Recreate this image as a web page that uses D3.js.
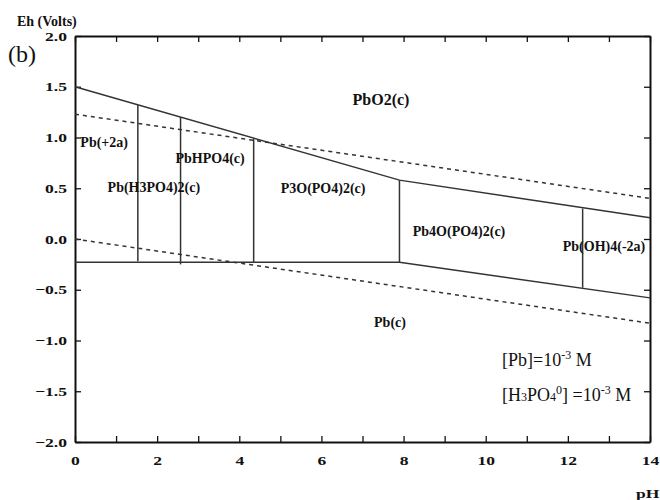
<!DOCTYPE html>
<html lang="en">
<head>
  <meta charset="UTF-8">
  <title>Eh-pH diagram Pb-P-O-H</title>
  <style>
    body { margin: 0; background: #fff; }
    text { font-family: "Liberation Serif", "Times New Roman", serif; fill: #111; }
  </style>
</head>
<body>
<script src="https://d3js.org/d3.v7.min.js"></script>
<div id="chart"></div>

<script>
    // DATA =======================================================================================
    // stability boundaries [pH, Eh]
    const upperBoundary = [[0, 1.50], [7.9, 0.58], [14, 0.21]];
    const lowerBoundary = [[0, -0.23], [7.9, -0.23], [14, -0.58]];
    // water stability limits (dashed)
    const waterUpper = [[0, 1.23], [14, 0.40]];
    const waterLower = [[0, 0.00], [14, -0.83]];
    // vertical phase boundaries
    const verticalPH  = [1.53, 2.57, 4.35, 7.9, 12.36];
    const verticalTop = [1.32, 1.20, 0.99, 0.58, 0.30];
    const verticalBot = [-0.22, -0.25, -0.23, -0.23, -0.48];
    // field labels
    const fieldNames = ["PbO2(c)", "Pb(+2a)", "PbHPO4(c)", "Pb(H3PO4)2(c)", "P3O(PO4)2(c)",
                        "Pb4O(PO4)2(c)", "Pb(OH)4(-2a)", "Pb(c)"];
    const fieldPH = [7.45, 0.71, 3.29, 1.92, 6.04, 9.35, 12.88, 7.67];
    const fieldEh = [1.38, 0.95, 0.80, 0.51, 0.50, 0.08, -0.07, -0.82];
    // axis ticks
    const xTicks = d3.range(0, 15, 1);
    const yTicks = d3.range(-2, 2.01, 0.5);

    // PLOT AREA ==================================================================================
    const W = 660, H = 500;
    const margin = {top: 36, right: 10, bottom: 58, left: 75};
    const width = W - margin.left - margin.right,
          height = H - margin.top - margin.bottom;

    const svg = d3.select("#chart").append("svg")
        .attr("width", W).attr("height", H);
    const g = svg.append("g")
        .attr("transform", `translate(${margin.left},${margin.top})`);

    // SCALES AND AXES ============================================================================
    const x = d3.scaleLinear().domain([0, 14]).range([0, width]);
    const y = d3.scaleLinear().domain([-2, 2]).range([height, 0]);

    const styleAxis = sel => {
      sel.select(".domain").attr("stroke", "#111").attr("stroke-width", 2);
      sel.selectAll(".tick line").attr("stroke", "#111").attr("stroke-width", 1.3);
      sel.selectAll(".tick text")
        .attr("font-weight", "bold")
        .attr("font-size", 13)
        .attr("fill", "#111");
    };

    const xAxis = g.append("g")
        .attr("transform", `translate(0,${height})`)
        .call(d3.axisBottom(x).tickValues(xTicks).tickSizeInner(-6).tickSizeOuter(0)
          .tickPadding(14).tickFormat(d => d % 2 ? "" : d))
        .call(styleAxis);
    xAxis.selectAll(".tick text").attr("transform", "scale(1.35,1)");

    const yAxis = g.append("g")
        .call(d3.axisLeft(y).tickValues(yTicks).tickSizeInner(-6).tickSizeOuter(0)
          .tickPadding(6).tickFormat(d3.format(".1f")))
        .call(styleAxis);
    yAxis.selectAll(".tick text").attr("transform", "scale(1.35,1)");

    g.append("g")
        .call(d3.axisTop(x).tickValues(xTicks).tickSizeInner(-6).tickSizeOuter(0).tickFormat(""))
        .call(styleAxis);
    g.append("g")
        .attr("transform", `translate(${width},0)`)
        .call(d3.axisRight(y).tickValues(yTicks).tickSizeInner(-6).tickSizeOuter(0).tickFormat(""))
        .call(styleAxis);

    // LINES ======================================================================================
    const line = d3.line().x(d => x(d[0])).y(d => y(d[1]));

    [waterUpper, waterLower].forEach(pts => {
      g.append("path").attr("d", line(pts))
        .attr("fill", "none").attr("stroke", "#333")
        .attr("stroke-width", 1.5).attr("stroke-dasharray", "4,4");
    });

    [upperBoundary, lowerBoundary].forEach(pts => {
      g.append("path").attr("d", line(pts))
        .attr("fill", "none").attr("stroke", "#333").attr("stroke-width", 1.5);
    });

    g.selectAll(".vline")
      .data(verticalPH)
      .join("line")
        .attr("class", "vline")
        .attr("x1", d => x(d)).attr("x2", d => x(d))
        .attr("y1", (d, i) => y(verticalTop[i]))
        .attr("y2", (d, i) => y(verticalBot[i]))
        .attr("stroke", "#333").attr("stroke-width", 1.5);

    // LABELS =====================================================================================
    g.selectAll(".field")
      .data(fieldNames)
      .join("text")
        .attr("class", "field")
        .attr("x", (d, i) => x(fieldPH[i]))
        .attr("y", (d, i) => y(fieldEh[i]))
        .attr("dy", "0.35em")
        .attr("text-anchor", "middle")
        .attr("font-weight", "bold")
        .attr("font-size", (d, i) => i === 0 ? 16 : 14)
        .text(d => d);

    // axis titles
    svg.append("text").attr("x", 17).attr("y", 26)
      .attr("font-weight", "bold").attr("font-size", 14).text("Eh (Volts)");
    svg.append("text")
      .attr("transform", "translate(636,498) scale(1.35,1)")
      .attr("font-weight", "bold").attr("font-size", 13).text("pH");
    svg.append("text").attr("x", 8).attr("y", 62)
      .attr("font-size", 24).text("(b)");

    // concentration note
    const n1 = svg.append("text").attr("x", 502).attr("y", 366).attr("font-size", 18);
    n1.append("tspan").text("[Pb]=10");
    n1.append("tspan").attr("font-size", 12).attr("dy", -7).text("-3");
    n1.append("tspan").attr("dy", 7).text(" M");

    const n2 = svg.append("text").attr("x", 502).attr("y", 401).attr("font-size", 18);
    n2.append("tspan").text("[H");
    n2.append("tspan").attr("font-size", 12).text("3");
    n2.append("tspan").text("PO");
    n2.append("tspan").attr("font-size", 12).text("4");
    n2.append("tspan").attr("font-size", 12).attr("dy", -7).text("0");
    n2.append("tspan").attr("dy", 7).text("] =10");
    n2.append("tspan").attr("font-size", 12).attr("dy", -7).text("-3");
    n2.append("tspan").attr("dy", 7).text(" M");
</script>
</body>
</html>
